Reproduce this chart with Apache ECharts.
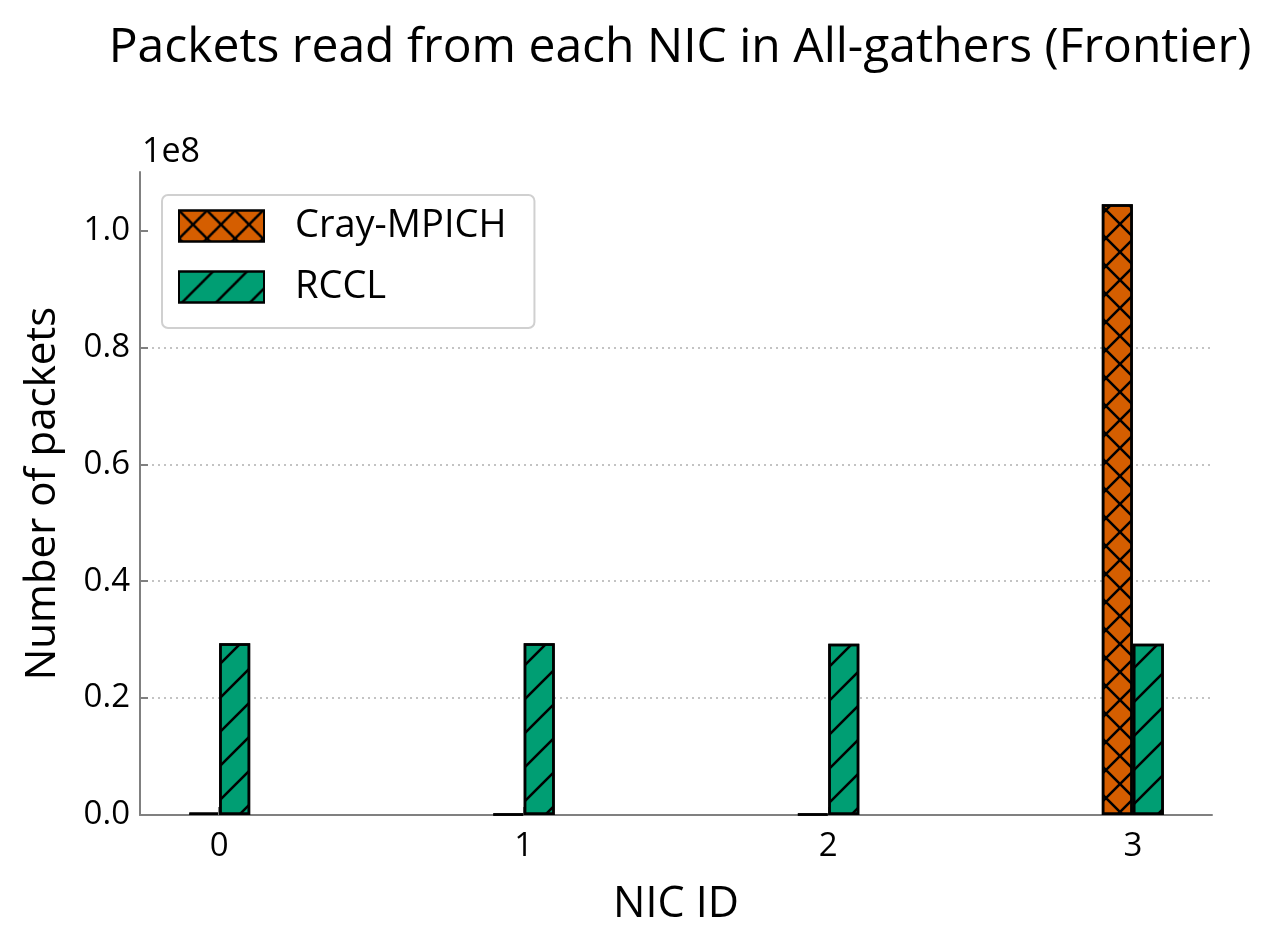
<!DOCTYPE html>
<html>
<head>
<meta charset="utf-8">
<script src="https://cdn.jsdelivr.net/npm/echarts@6/dist/echarts.min.js"></script>
<style>
  html, body { margin: 0; padding: 0; background: #fff; }
  #chart { width: 1278px; height: 950px; }
</style>
</head>
<body>
<div id="chart"></div>
<script>
// NIC ids and packets read (in units of 1e8)
const nicIds = [0, 1, 2, 3];
const crayMpich = [0.004, 0.002, 0.002, 1.045];
const rccl = [0.294, 0.294, 0.293, 0.293];
const yTicks = [0, 0.2, 0.4, 0.6, 0.8, 1.0];

const FONT = '"Open Sans"';

// hatch patterns, drawn as filled paths inside one tile
const slashHatch = {
    symbol: 'path://M0,32.2L32.2,0L34,0L34,1.8L1.8,34L0,34ZM0,0L1.8,0L0,1.8ZM34,34L32.2,34L34,32.2Z',
    symbolSize: 1,
    symbolKeepAspect: false,
    dashArrayX: [34, 0],
    dashArrayY: [34, 0],
    color: '#000'
};
const crossHatch = {
    symbol: 'path://M0,0L1.8,0L28,26.2L28,28L26.2,28L0,1.8ZM0,28L0,26.2L26.2,0L28,0L28,1.8L1.8,28Z',
    symbolSize: 1,
    symbolKeepAspect: false,
    dashArrayX: [28, 0],
    dashArrayY: [28, 0],
    color: '#000'
};

const chart = echarts.init(document.getElementById('chart'));

const option = {
    backgroundColor: '#fff',
    animation: false,
    title: [
        {
            text: 'Packets read from each NIC in All-gathers (Frontier)',
            left: 675, top: 19, textAlign: 'center',
            textStyle: { fontFamily: FONT, fontSize: 48, fontWeight: 'normal', color: '#000' }
        },
        {
            text: '1e8',
            left: 137, top: 130,
            textStyle: { fontFamily: FONT, fontSize: 34, fontWeight: 'normal', color: '#000' }
        }
    ],
    legend: {
        left: 162, top: 195,
        orient: 'vertical',
        icon: 'rect',
        padding: [12, 28, 22, 16],
        itemWidth: 85, itemHeight: 31, itemGap: 23,
        borderColor: '#d0d0d0', borderWidth: 2, borderRadius: 6,
        backgroundColor: 'rgba(255,255,255,0.8)',
        textStyle: { fontFamily: FONT, fontSize: 38, color: '#000', padding: [0, 0, 0, 26] },
        data: ['Cray-MPICH', 'RCCL']
    },
    grid: { left: 140, right: 66, top: 172, bottom: 135 },
    xAxis: {
        type: 'value',
        min: -0.26, max: 3.26,
        name: 'NIC ID', nameLocation: 'middle', nameGap: 68,
        nameTextStyle: { fontFamily: FONT, fontSize: 43, color: '#000' },
        axisLine: { onZero: false, lineStyle: { color: '#808080', width: 2 } },
        axisTick: { inside: true, length: 8, customValues: nicIds, lineStyle: { color: '#808080', width: 2 } },
        axisLabel: { customValues: nicIds, fontFamily: FONT, fontSize: 33, color: '#000', margin: 15 },
        splitLine: { show: false }
    },
    yAxis: {
        type: 'value',
        min: 0, max: 1.1,
        name: 'Number of packets', nameLocation: 'middle', nameGap: 76,
        nameTextStyle: { fontFamily: FONT, fontSize: 42, color: '#000' },
        axisLine: { show: true, onZero: false, lineStyle: { color: '#808080', width: 2 } },
        axisTick: { show: true, inside: true, length: 8, customValues: yTicks, lineStyle: { color: '#808080', width: 2 } },
        axisLabel: {
            customValues: yTicks, fontFamily: FONT, fontSize: 33, color: '#000', margin: 10,
            formatter: v => v.toFixed(1)
        },
        splitLine: {
            show: true, showMinLine: false, showMaxLine: false,
            lineStyle: { type: [2, 4], color: '#b0b0b0', width: 1.5 }
        }
    },
    series: [
        {
            name: 'Cray-MPICH',
            type: 'bar',
            barWidth: 31,
            barGap: '0%',
            data: nicIds.map((x, i) => [x, crayMpich[i]]),
            itemStyle: { color: '#D55E00', borderColor: '#000', borderWidth: 2.5, decal: crossHatch }
        },
        {
            name: 'RCCL',
            type: 'bar',
            barWidth: 31,
            barGap: '0%',
            data: nicIds.map((x, i) => [x, rccl[i]]),
            itemStyle: { color: '#009E73', borderColor: '#000', borderWidth: 2.5, decal: slashHatch }
        }
    ]
};

chart.setOption(option);
</script>
</body>
</html>
